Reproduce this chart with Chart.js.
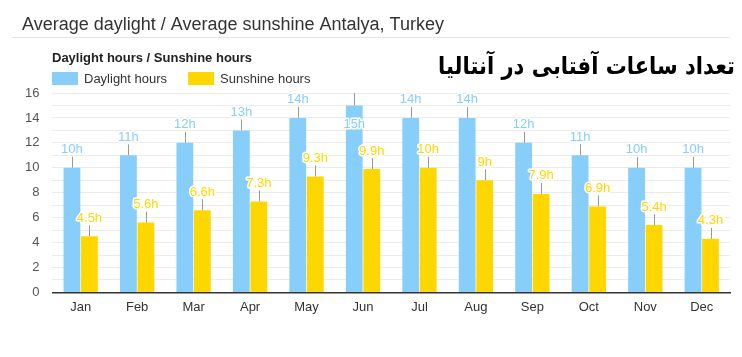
<!DOCTYPE html>
<html>
<head>
<meta charset="utf-8">
<script src="https://cdn.jsdelivr.net/npm/chart.js@4.4.0/dist/chart.umd.min.js"></script>
<style>
html,body{margin:0;padding:0;background:#fff;}
#wrap{position:relative;width:742px;height:357px;}
</style>
</head>
<body>
<div id="wrap"><canvas id="c" width="742" height="357"></canvas></div>
<script>
const months = ["Jan","Feb","Mar","Apr","May","Jun","Jul","Aug","Sep","Oct","Nov","Dec"];
const daylightHours = [10, 11, 12, 13, 14, 15, 14, 14, 12, 11, 10, 10];
const sunshineHours = [4.5, 5.6, 6.6, 7.3, 9.3, 9.9, 10, 9, 7.9, 6.9, 5.4, 4.3];
const daylightLabels = ["10h","11h","12h","13h","14h","15h","14h","14h","12h","11h","10h","10h"];
const sunshineLabels = ["4.5h","5.6h","6.6h","7.3h","9.3h","9.9h","10h","9h","7.9h","6.9h","5.4h","4.3h"];
const yTicks = [0, 2, 4, 6, 8, 10, 12, 14, 16];

const titleText = "Average daylight / Average sunshine Antalya, Turkey";
const subTitleText = "Daylight hours / Sunshine hours";
const persianText = "تعداد ساعات آفتابی در آنتالیا";

const BLUE = "#87CEFA";
const GOLD = "#FFD700";

const headerPlugin = {
  id: "header",
  afterDraw(chart) {
    const ctx = chart.ctx;
    ctx.save();
    ctx.textAlign = "left";
    ctx.textBaseline = "alphabetic";
    ctx.fillStyle = "#333";
    ctx.font = "18px 'Liberation Sans', Arial, sans-serif";
    ctx.fillText(titleText, 22, 30);
    ctx.strokeStyle = "#e6e6e6";
    ctx.lineWidth = 1;
    ctx.beginPath();
    ctx.moveTo(12, 37.5);
    ctx.lineTo(730, 37.5);
    ctx.stroke();
    ctx.fillStyle = "#222";
    ctx.font = "bold 13px 'Liberation Sans', Arial, sans-serif";
    ctx.fillText(subTitleText, 52, 62);
    // legend
    let x = 52;
    ctx.font = "13px 'Liberation Sans', Arial, sans-serif";
    chart.data.datasets.forEach(ds => {
      ctx.fillStyle = ds.backgroundColor;
      ctx.fillRect(x, 72, 26, 13);
      ctx.fillStyle = "#333";
      ctx.fillText(ds.label, x + 32, 83);
      x += 32 + ctx.measureText(ds.label).width + 21;
    });
    // Persian title
    let size = 28;
    ctx.font = "bold " + size + "px 'DejaVu Sans', sans-serif";
    const w = ctx.measureText(persianText).width;
    size = size * 297 / w;
    ctx.font = "bold " + size.toFixed(2) + "px 'DejaVu Sans', sans-serif";
    ctx.fillStyle = "#000";
    ctx.textAlign = "right";
    ctx.translate(735, 74);
    ctx.scale(1, 1.15);
    ctx.fillText(persianText, 0, 0);
    ctx.restore();
  }
};

const valueLabelPlugin = {
  id: "valueLabels",
  afterDatasetsDraw(chart) {
    const ctx = chart.ctx;
    const top = chart.chartArea.top;
    ctx.save();
    ctx.font = "13px 'Liberation Sans', Arial, sans-serif";
    ctx.textAlign = "center";
    ctx.textBaseline = "alphabetic";
    chart.data.datasets.forEach((ds, di) => {
      const meta = chart.getDatasetMeta(di);
      meta.data.forEach((el, i) => {
        const x = el.x, y = el.y;
        const txt = ds.valueLabels[i];
        let baseline = y - 14.5;
        let lineEnd = y - 11;
        if (baseline - 11 < top - 3) {
          baseline = y + 22.5;
          lineEnd = top;
        }
        ctx.strokeStyle = "#999";
        ctx.lineWidth = 1;
        ctx.beginPath();
        ctx.moveTo(Math.round(x) + 0.5, y);
        ctx.lineTo(Math.round(x) + 0.5, lineEnd);
        ctx.stroke();
        ctx.lineJoin = "round";
        ctx.strokeStyle = "#fff";
        ctx.lineWidth = 3;
        ctx.strokeText(txt, x, baseline);
        ctx.fillStyle = ds.backgroundColor;
        ctx.fillText(txt, x, baseline);
      });
    });
    ctx.restore();
  }
};

new Chart(document.getElementById("c"), {
  type: "bar",
  data: {
    labels: months,
    datasets: [
      { label: "Daylight hours", data: daylightHours, valueLabels: daylightLabels, backgroundColor: BLUE, borderWidth: 0 },
      { label: "Sunshine hours", data: sunshineHours, valueLabels: sunshineLabels, backgroundColor: GOLD, borderWidth: 0 }
    ]
  },
  options: {
    responsive: false,
    animation: false,
    events: [],
    layout: { padding: { top: 93, left: 12, right: 12, bottom: 35 } },
    datasets: { bar: { categoryPercentage: 0.62, barPercentage: 0.96 } },
    plugins: { legend: { display: false }, tooltip: { enabled: false }, title: { display: false } },
    scales: {
      x: {
        grid: { display: false, drawTicks: false },
        border: { display: true, color: "#333", width: 1.5 },
        ticks: { color: "#333", font: { size: 13, family: "'Liberation Sans', Arial, sans-serif" }, padding: 7 }
      },
      y: {
        min: 0, max: 16,
        afterBuildTicks(axis) {
          const t = [];
          for (let v = 0; v <= 16; v++) t.push({ value: v });
          axis.ticks = t;
        },
        grid: { color: "#ebebeb", drawTicks: false },
        border: { display: false },
        ticks: {
          color: "#555",
          padding: 13,
          font: { size: 13, family: "'Liberation Sans', Arial, sans-serif" },
          autoSkip: false,
          callback: (v) => yTicks.includes(v) ? String(v) : ""
        }
      }
    }
  },
  plugins: [valueLabelPlugin, headerPlugin]
});
</script>
</body>
</html>
